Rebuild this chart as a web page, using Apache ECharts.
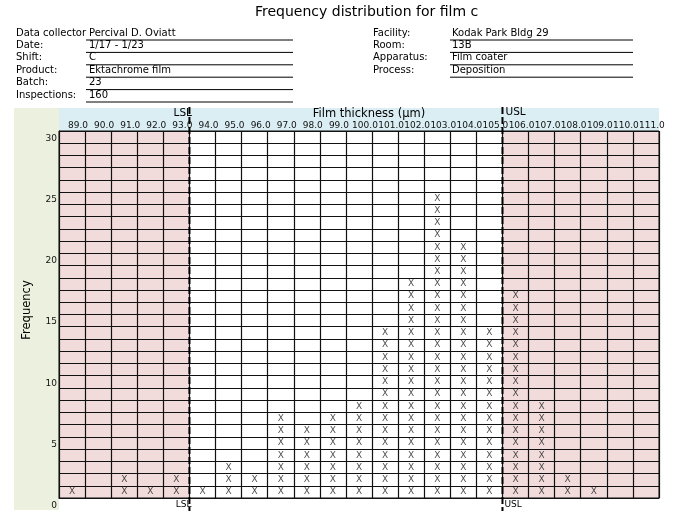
<!DOCTYPE html>
<html>
<head>
<meta charset="utf-8">
<script src="https://cdn.jsdelivr.net/npm/echarts/dist/echarts.min.js"></script>
<style>
html,body{margin:0;padding:0;background:#fff;}
#chart{width:673px;height:517px;}
</style>
</head>
<body>
<div id="chart"></div>
<script>
// ---- data ----
const categories = ['89.0','90.0','91.0','92.0','93.0','94.0','95.0','96.0','97.0','98.0','99.0','100.0','101.0','102.0','103.0','104.0','105.0','106.0','107.0','108.0','109.0','110.0','111.0'];
const counts = [1,0,2,1,2,1,3,2,7,6,7,8,14,18,25,21,14,17,8,2,1,0,0];
const yMax = 30;
const LSL = 93.5;
const USL = 105.5;
const titleText = 'Frequency distribution for film c';
const leftInfoLabels = ['Data collector','Date:','Shift:','Product:','Batch:','Inspections:'];
const leftInfoValues = ['Percival D. Oviatt','1/17 - 1/23','C','Ektachrome film','23','160'];
const rightInfoLabels = ['Facility:','Room:','Apparatus:','Process:'];
const rightInfoValues = ['Kodak Park Bldg 29','13B','Film coater','Deposition'];
const xAxisName = 'Film thickness (\u00b5m)';
const yAxisName = 'Frequency';

const FONT = 'DejaVu Sans';
const chart = echarts.init(document.getElementById('chart'), null, {renderer:'canvas'});

const outside = categories.map(c => {
  const v = parseFloat(c);
  return (v < LSL || v > USL) ? yMax : '-';
});
const marks = [];
counts.forEach((n, i) => { for (let k = 0; k < n; k++) marks.push([i, k + 0.5]); });

const GL = 59, GT = 131, GR = 659, GB = 498;

chart.setOption({
  animation: false,
  textStyle: {fontFamily: FONT},
  title: {
    text: titleText, left: 255, top: 5, padding: 0,
    textStyle: {fontFamily: FONT, fontSize: 14, fontWeight: 'normal', color: '#000'}
  },
  grid: {left: GL, top: GT, right: 673 - GR, bottom: 517 - GB, show: true, borderColor: '#111', borderWidth: 1, z: 10, backgroundColor: 'transparent'},
  xAxis: {
    type: 'category', data: categories, position: 'top', z: 10,
    axisLine: {show: true, lineStyle: {color: '#111', width: 1}},
    axisTick: {show: false},
    axisLabel: {interval: 0, margin: 1, fontSize: 9, color: '#111', fontFamily: FONT, padding: [0,0,0,12]},
    splitLine: {show: true, interval: 0, lineStyle: {color: '#111', width: 1.2}}
  },
  yAxis: {
    type: 'value', min: 0, max: yMax, interval: 1, z: 10,
    axisLine: {show: true, lineStyle: {color: '#111', width: 1}},
    axisTick: {show: false},
    axisLabel: {margin: 2, fontSize: 9, color: '#111', fontFamily: FONT, verticalAlign: 'top', padding: [3,0,0,0],
      formatter: v => (v % 5 === 0 ? String(v) : '')},
    splitLine: {show: true, lineStyle: {color: '#111', width: 1.2}}
  },
  series: [
    {
      type: 'bar', data: outside, barWidth: '100%', barCategoryGap: '0%', silent: true, z: 1,
      itemStyle: {color: '#f2dcdb'}
    },
    {
      type: 'scatter', data: marks, symbolSize: 1, silent: true, z: 3,
      itemStyle: {color: 'rgba(0,0,0,0)'},
      label: {show: true, position: 'inside', formatter: 'X', fontSize: 9, color: '#222', fontFamily: FONT}
    }
  ]
});

// spec lines positioned through the axis scale
function catPx(idx) { return chart.convertToPixel({xAxisIndex: 0}, idx); }
function limitPx(v) {
  const base = parseFloat(categories[0]);
  const pos = v - base; // fractional category index
  const i0 = Math.floor(pos), i1 = Math.ceil(pos);
  return (catPx(i0) + catPx(i1)) / 2;
}
const xL = limitPx(LSL), xU = limitPx(USL);

const g = [];
// background bands
g.push({type: 'rect', z: -10, shape: {x: 14, y: 108, width: GL - 14, height: 402}, style: {fill: '#ebf1de'}});
g.push({type: 'rect', z: -10, shape: {x: GL, y: 108, width: GR - GL, height: GT - 108}, style: {fill: '#daeef3'}});
// header info
const rowY = i => 33 + i * 12.4;
leftInfoLabels.forEach((t, i) => {
  g.push({type: 'text', x: 16, y: rowY(i), style: {text: t, fontSize: 10, fontFamily: FONT, fill: '#000', verticalAlign: 'middle'}});
  g.push({type: 'text', x: 89, y: rowY(i), style: {text: leftInfoValues[i], fontSize: 10, fontFamily: FONT, fill: '#000', verticalAlign: 'middle'}});
  g.push({type: 'line', shape: {x1: 86, y1: rowY(i) + 7, x2: 293, y2: rowY(i) + 7}, style: {stroke: '#000', lineWidth: 1}});
});
rightInfoLabels.forEach((t, i) => {
  g.push({type: 'text', x: 373, y: rowY(i), style: {text: t, fontSize: 10, fontFamily: FONT, fill: '#000', verticalAlign: 'middle'}});
  g.push({type: 'text', x: 452, y: rowY(i), style: {text: rightInfoValues[i], fontSize: 10, fontFamily: FONT, fill: '#000', verticalAlign: 'middle'}});
  g.push({type: 'line', shape: {x1: 450, y1: rowY(i) + 7, x2: 633, y2: rowY(i) + 7}, style: {stroke: '#000', lineWidth: 1}});
});
// axis names
g.push({type: 'text', x: 369, y: 114, z: 20, style: {text: xAxisName, fontSize: 11.5, fontFamily: FONT, fill: '#000', align: 'center', verticalAlign: 'middle'}});
g.push({type: 'text', x: 27, y: 310, rotation: Math.PI / 2, z: 20, style: {text: yAxisName, fontSize: 11.5, fontFamily: FONT, fill: '#000', align: 'center', verticalAlign: 'middle'}});
// spec limit labels
g.push({type: 'text', x: xL + 2.5, y: 113, z: 20, style: {text: 'LSL', fontSize: 10.5, fontFamily: FONT, fill: '#000', align: 'right', verticalAlign: 'middle'}});
g.push({type: 'text', x: xL + 2, y: 505, z: 20, style: {text: 'LSL', fontSize: 9, fontFamily: FONT, fill: '#000', align: 'right', verticalAlign: 'middle'}});
g.push({type: 'text', x: xU + 3, y: 112, z: 20, style: {text: 'USL', fontSize: 10.5, fontFamily: FONT, fill: '#000', align: 'left', verticalAlign: 'middle'}});
g.push({type: 'text', x: xU + 2, y: 505, z: 20, style: {text: 'USL', fontSize: 9, fontFamily: FONT, fill: '#000', align: 'left', verticalAlign: 'middle'}});
// dashed spec lines
[xL, xU].forEach(x => {
  g.push({type: 'line', z: 30, shape: {x1: x, y1: 107, x2: x, y2: 511}, style: {stroke: '#000', lineWidth: 2, lineDash: [7, 3]}});
});
chart.setOption({graphic: {elements: g}});
</script>
</body>
</html>
